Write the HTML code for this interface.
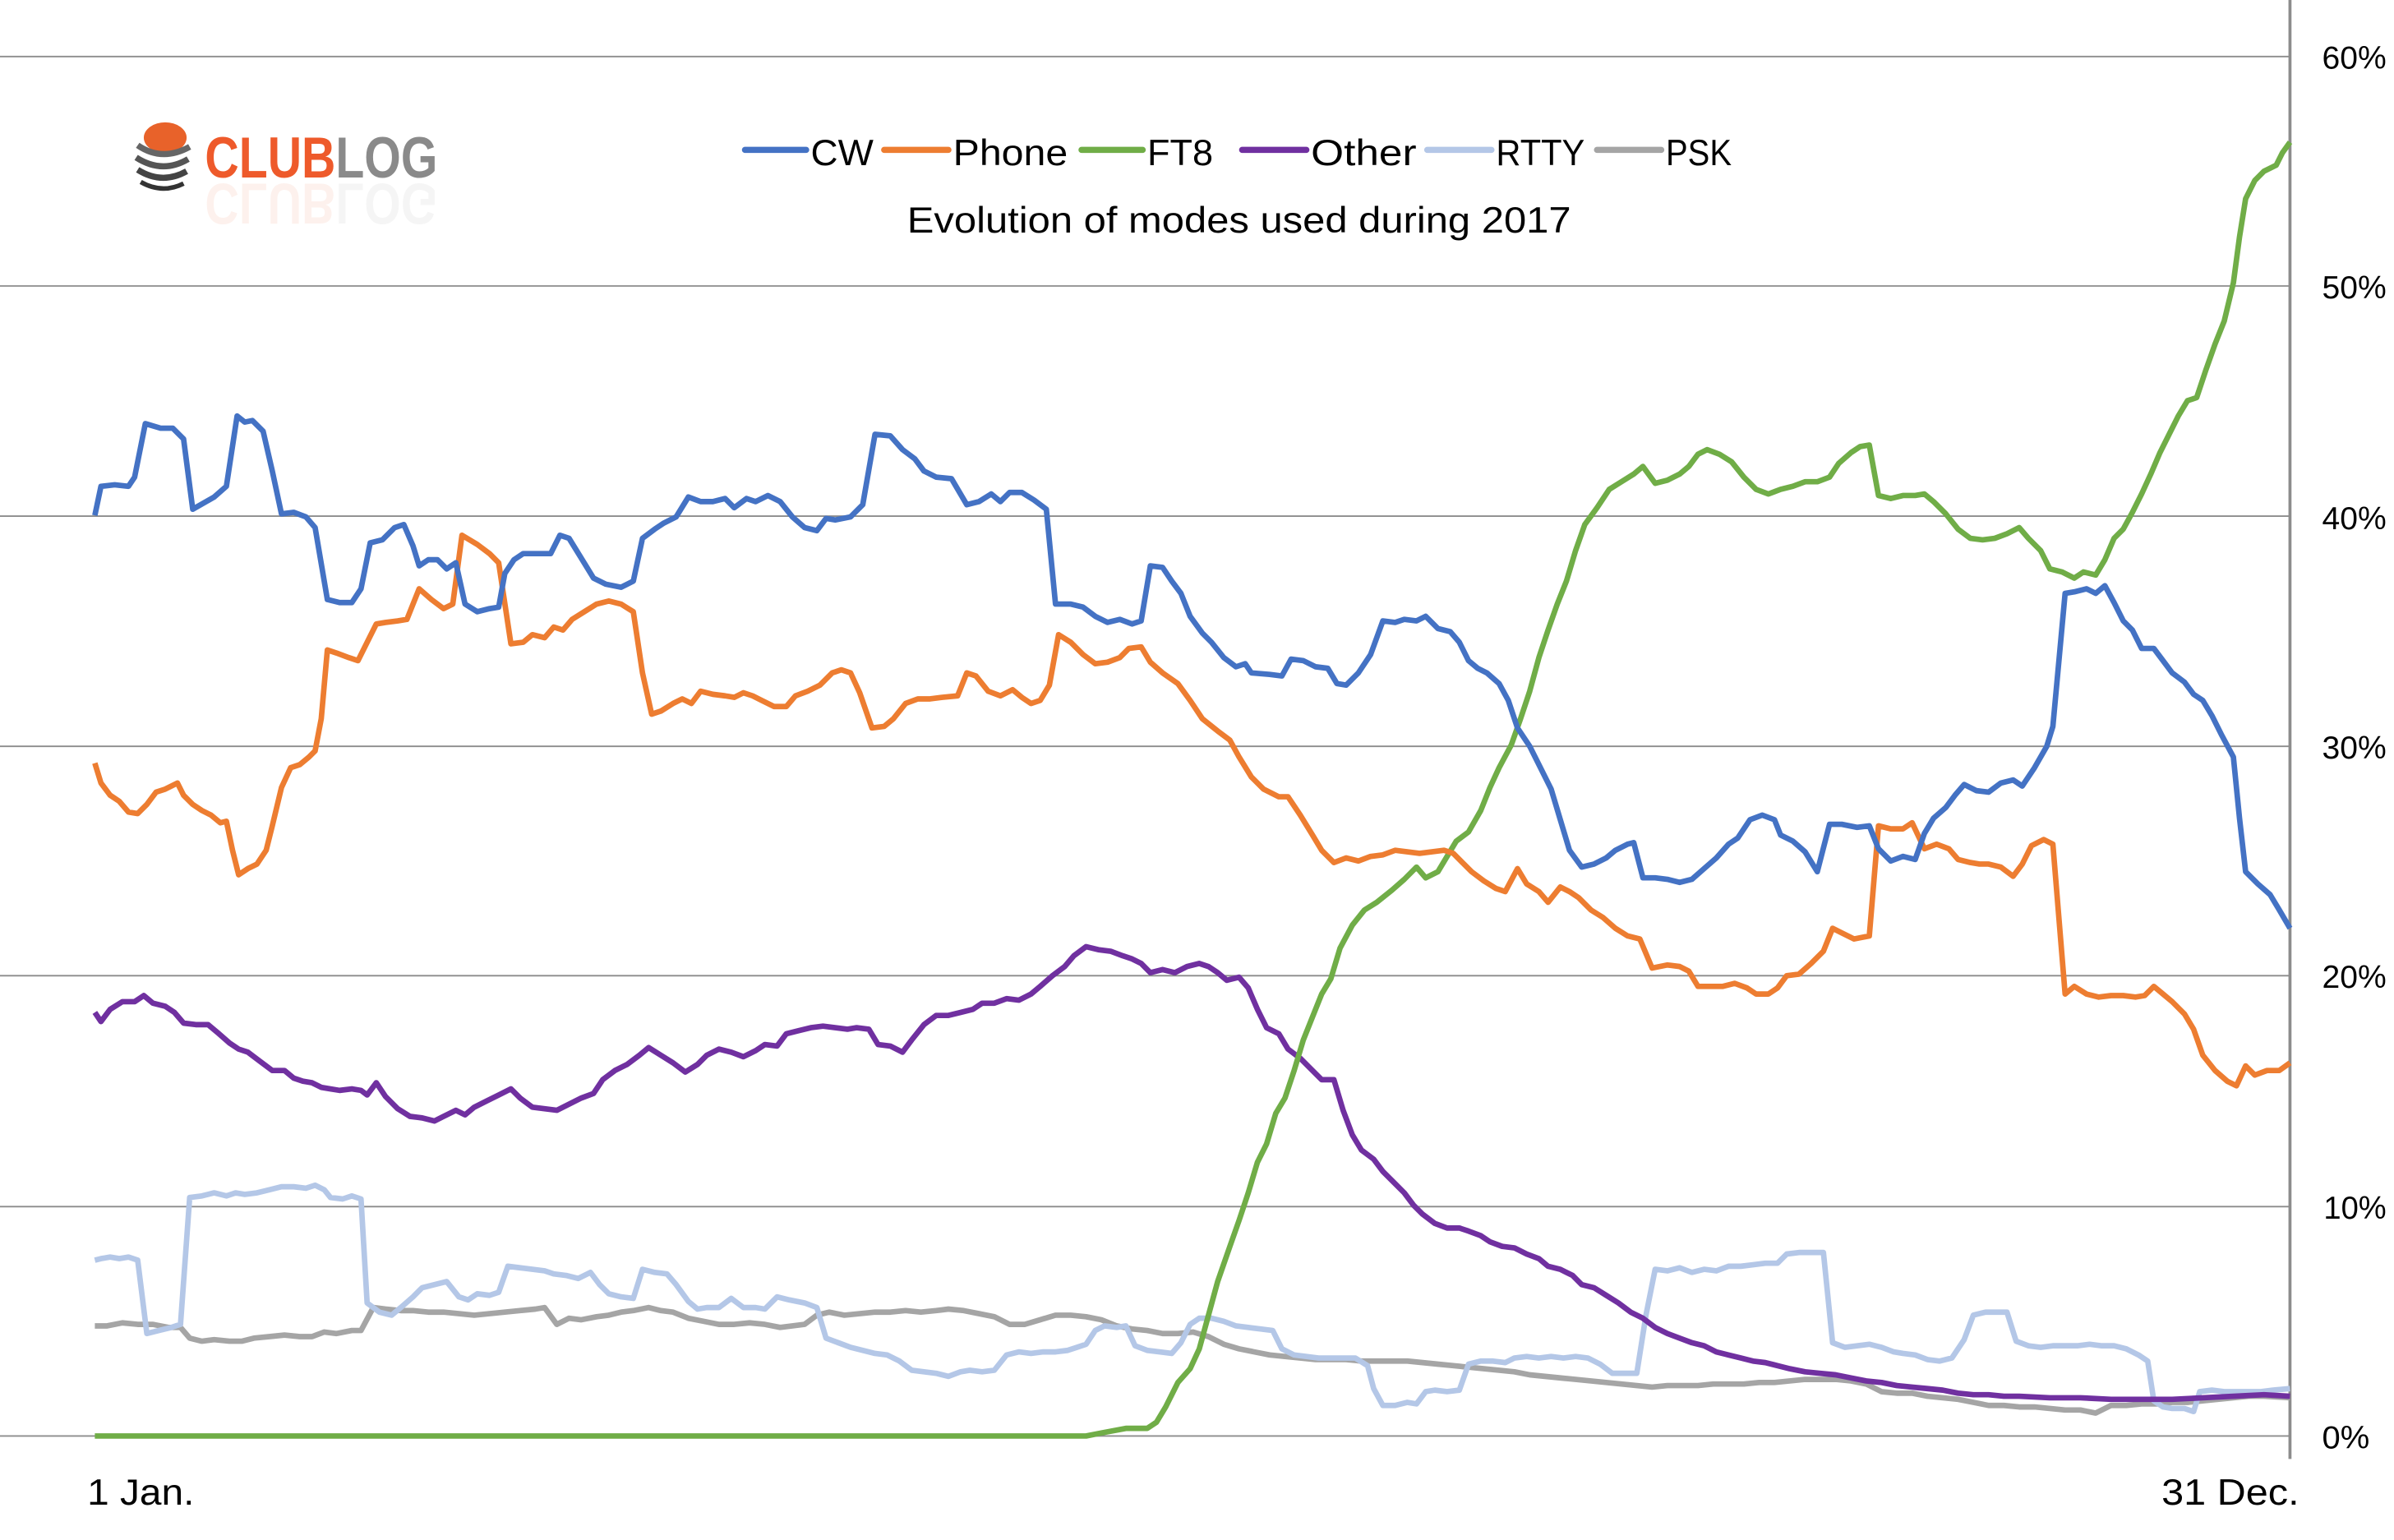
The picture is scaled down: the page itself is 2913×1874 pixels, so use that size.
<!DOCTYPE html>
<html><head><meta charset="utf-8"><style>html,body{margin:0;padding:0;background:#fff}svg{display:block}</style></head>
<body>
<svg width="2913" height="1874" viewBox="0 0 1565 1007" preserveAspectRatio="none" xmlns="http://www.w3.org/2000/svg" font-family="'Liberation Sans', sans-serif">
<rect width="1565" height="1007" fill="#fff"/>
<g stroke="#8c8c8c" stroke-width="1">
<line x1="0" y1="37" x2="1497" y2="37"/>
<line x1="0" y1="187" x2="1497" y2="187"/>
<line x1="0" y1="337.5" x2="1497" y2="337.5"/>
<line x1="0" y1="488" x2="1497" y2="488"/>
<line x1="0" y1="638" x2="1497" y2="638"/>
<line x1="0" y1="789" x2="1497" y2="789"/>
<line x1="0" y1="939" x2="1497" y2="939"/>
</g>
<line x1="1497" y1="0" x2="1497" y2="954" stroke="#8c8c8c" stroke-width="2"/>
<g font-size="21" fill="#000">
<text x="1518" y="45" textLength="42" lengthAdjust="spacingAndGlyphs">60%</text>
<text x="1518" y="195" textLength="42" lengthAdjust="spacingAndGlyphs">50%</text>
<text x="1518" y="346" textLength="42" lengthAdjust="spacingAndGlyphs">40%</text>
<text x="1518" y="496" textLength="42" lengthAdjust="spacingAndGlyphs">30%</text>
<text x="1518" y="646" textLength="42" lengthAdjust="spacingAndGlyphs">20%</text>
<text x="1519" y="797" textLength="41" lengthAdjust="spacingAndGlyphs">10%</text>
<text x="1518" y="947" textLength="31" lengthAdjust="spacingAndGlyphs">0%</text>
</g>
<text x="57" y="984" font-size="24" textLength="70" lengthAdjust="spacingAndGlyphs">1 Jan.</text>
<text x="1413" y="984" font-size="24" textLength="90" lengthAdjust="spacingAndGlyphs">31 Dec.</text>
<!-- logo -->
<g>
<ellipse cx="108" cy="90" rx="14" ry="10" fill="#e8622a"/>
<path d="M90 95 Q106 106 124 96" stroke="#666" stroke-width="4" fill="none"/>
<path d="M89 103 Q106 114 123 104" stroke="#555" stroke-width="4" fill="none"/>
<path d="M90 111 Q106 121 122 112" stroke="#444" stroke-width="4" fill="none"/>
<path d="M92 119 Q106 127 120 120" stroke="#333" stroke-width="3" fill="none"/>
<text x="134" y="116" font-size="38" font-weight="bold" textLength="152" lengthAdjust="spacingAndGlyphs"><tspan fill="#ee5a2b">CLUB</tspan><tspan fill="#8a8a8a">LOG</tspan></text>
<text x="134" y="120" font-size="38" font-weight="bold" textLength="152" lengthAdjust="spacingAndGlyphs" transform="translate(0,240) scale(1,-1)" opacity="0.08"><tspan fill="#ee5a2b">CLUB</tspan><tspan fill="#8a8a8a">LOG</tspan></text>
</g>
<!-- legend -->
<g stroke-width="4" stroke-linecap="round">
<line x1="487" y1="98" x2="527" y2="98" stroke="#4472c4"/>
<line x1="578" y1="98" x2="620" y2="98" stroke="#ed7d31"/>
<line x1="707" y1="98" x2="747" y2="98" stroke="#70ad47"/>
<line x1="812" y1="98" x2="854" y2="98" stroke="#7030a0"/>
<line x1="933" y1="98" x2="975" y2="98" stroke="#b4c7e7"/>
<line x1="1044" y1="98" x2="1086" y2="98" stroke="#a5a5a5"/>
</g>
<g font-size="24" fill="#000">
<text x="530" y="108" textLength="41" lengthAdjust="spacingAndGlyphs">CW</text>
<text x="623" y="108" textLength="75" lengthAdjust="spacingAndGlyphs">Phone</text>
<text x="750" y="108" textLength="43" lengthAdjust="spacingAndGlyphs">FT8</text>
<text x="857" y="108" textLength="69" lengthAdjust="spacingAndGlyphs">Other</text>
<text x="978" y="108" textLength="58" lengthAdjust="spacingAndGlyphs">RTTY</text>
<text x="1089" y="108" textLength="43" lengthAdjust="spacingAndGlyphs">PSK</text>
<text x="593" y="152" textLength="434" lengthAdjust="spacingAndGlyphs">Evolution of modes used during 2017</text>
</g>
<g fill="none" stroke-width="3.6" stroke-linejoin="round">
<polyline stroke="#a5a5a5" points="62,867 70,867 80,865 90,866 100,866 110,868 118,868 124,875 132,877 140,876 150,877 158,877 166,875 176,874 186,873 196,874 204,874 212,871 220,872 230,870 236,870 244,855 252,856 262,857 270,857 280,858 290,858 300,859 310,860 320,859 330,858 340,857 350,856 356,855 364,866 372,862 380,863 390,861 398,860 406,858 414,857 424,855 432,857 440,858 450,862 460,864 470,866 480,866 490,865 500,866 510,868 518,867 526,866 534,860 542,858 552,860 562,859 572,858 582,858 592,857 602,858 612,857 620,856 630,857 640,859 650,861 660,866 670,866 680,863 690,860 700,860 710,861 720,863 730,867 740,869 750,870 760,872 770,872 780,871 790,874 800,879 810,882 820,884 830,886 840,887 850,888 860,889 870,889 880,889 890,890 900,890 910,890 920,890 930,891 940,892 950,893 960,894 970,895 980,896 990,897 1000,899 1010,900 1020,901 1030,902 1040,903 1050,904 1060,905 1070,906 1080,907 1090,906 1100,906 1110,906 1120,905 1130,905 1140,905 1150,904 1160,904 1170,903 1180,902 1190,902 1200,902 1210,903 1220,905 1230,910 1240,911 1250,911 1260,913 1270,914 1280,915 1290,917 1300,919 1310,919 1320,920 1330,920 1340,921 1350,922 1360,922 1370,924 1380,919 1390,919 1400,918 1410,918 1420,917 1430,917 1440,916 1450,915 1460,914 1470,913 1480,913 1497,914"/>
<polyline stroke="#b4c7e7" points="62,824 66,823 72,822 78,823 84,822 90,824 96,872 104,870 112,868 118,866 124,783 132,782 140,780 148,782 154,780 160,781 168,780 176,778 184,776 192,776 200,777 206,775 212,778 216,783 224,784 230,782 236,784 240,852 248,858 256,860 262,855 270,848 276,842 284,840 292,838 300,848 306,850 312,846 320,847 326,845 332,828 340,829 348,830 356,831 362,833 370,834 378,836 386,832 392,840 398,846 406,848 414,849 420,830 428,832 436,833 442,840 450,851 456,856 462,855 470,855 478,849 486,855 494,855 500,856 508,848 516,850 526,852 534,855 540,875 548,878 556,881 564,883 572,885 580,886 588,890 596,896 604,897 612,898 620,900 628,897 634,896 642,897 650,896 658,886 666,884 674,885 682,884 690,884 698,883 704,881 710,879 716,870 722,867 730,868 736,867 742,880 750,883 758,884 766,885 772,878 778,866 784,862 792,862 800,864 808,867 816,868 824,869 832,870 838,882 846,886 854,887 862,888 870,888 878,888 886,888 894,893 898,908 904,919 912,919 920,917 926,918 932,910 938,909 946,910 954,909 960,892 968,890 976,890 984,891 990,888 998,887 1006,888 1014,887 1022,888 1030,887 1038,888 1046,892 1054,898 1062,898 1070,898 1076,860 1082,830 1090,831 1098,829 1106,832 1114,830 1122,831 1130,828 1138,828 1146,827 1154,826 1162,826 1168,820 1176,819 1184,819 1192,819 1198,878 1206,881 1214,880 1222,879 1230,881 1238,884 1244,885 1252,886 1260,889 1268,890 1276,888 1284,876 1290,860 1298,858 1306,858 1312,858 1318,877 1326,880 1334,881 1342,880 1350,880 1358,880 1366,879 1374,880 1382,880 1390,882 1398,886 1404,890 1408,916 1414,920 1420,921 1428,921 1434,923 1438,910 1446,909 1454,910 1462,910 1470,910 1478,910 1486,909 1497,908"/>
<polyline stroke="#7030a0" points="62,662 66,668 72,660 80,655 88,655 94,651 100,656 108,658 114,662 120,669 128,670 136,670 142,675 150,682 156,686 162,688 170,694 178,700 186,700 192,705 198,707 204,708 210,711 216,712 222,713 230,712 236,713 240,716 246,708 252,717 260,725 268,730 276,731 284,733 290,730 298,726 304,729 310,724 318,720 326,716 334,712 340,718 348,724 356,725 364,726 372,722 380,718 388,715 394,706 402,700 410,696 418,690 424,685 432,690 440,695 448,701 456,696 462,690 470,686 478,688 486,691 494,687 500,683 508,684 514,676 522,674 530,672 538,671 546,672 554,673 560,672 568,673 574,683 582,684 590,688 596,680 604,670 612,664 620,664 628,662 636,660 642,656 650,656 658,653 666,654 674,650 680,645 688,638 696,632 702,625 710,619 718,621 726,622 734,625 740,627 746,630 752,636 760,634 768,636 776,632 784,630 790,632 796,636 802,641 810,639 816,646 822,660 828,672 836,676 842,686 850,692 856,698 864,706 872,706 878,726 884,742 890,752 898,758 904,766 912,774 918,780 924,788 930,794 938,800 946,803 954,803 960,805 968,808 974,812 982,815 990,816 998,820 1006,823 1012,828 1020,830 1028,834 1034,840 1042,842 1050,847 1058,852 1066,858 1074,862 1082,868 1090,872 1098,875 1106,878 1114,880 1122,884 1130,886 1138,888 1146,890 1154,891 1162,893 1170,895 1180,897 1190,898 1200,899 1210,901 1220,903 1230,904 1240,906 1250,907 1260,908 1270,909 1280,911 1290,912 1300,912 1310,913 1320,913 1340,914 1360,914 1380,915 1400,915 1420,915 1440,914 1460,913 1480,912 1497,913"/>
<polyline stroke="#70ad47" points="62,939 710,939 720,937 736,934 750,934 756,930 762,920 770,904 778,895 784,882 790,860 796,838 804,815 810,798 816,780 822,760 828,748 834,728 840,718 846,700 852,680 858,665 864,650 870,640 876,620 884,605 892,595 900,590 910,582 918,575 926,567 932,574 940,570 946,560 952,550 960,544 968,530 974,515 980,502 988,487 994,470 1000,452 1006,430 1012,412 1018,395 1024,380 1030,360 1036,343 1044,332 1052,320 1060,315 1068,310 1074,305 1082,316 1090,314 1098,310 1104,305 1110,297 1116,294 1124,297 1132,302 1140,312 1148,320 1156,323 1164,320 1172,318 1180,315 1188,315 1196,312 1202,303 1210,296 1216,292 1222,291 1228,324 1236,326 1244,324 1252,324 1258,323 1264,328 1272,336 1280,346 1288,352 1296,353 1304,352 1312,349 1320,345 1326,352 1334,360 1340,372 1348,374 1356,378 1362,374 1370,376 1376,366 1382,352 1388,346 1394,335 1400,323 1406,310 1412,296 1418,284 1424,272 1430,262 1436,260 1442,242 1448,225 1454,210 1460,185 1464,155 1468,130 1474,118 1480,112 1488,108 1492,100 1497,93"/>
<polyline stroke="#ed7d31" points="62,499 66,512 72,520 78,524 84,531 90,532 96,526 102,518 108,516 116,512 120,520 126,526 132,530 138,533 144,538 148,537 152,556 156,572 162,568 168,565 174,556 178,540 184,515 190,502 196,500 202,495 206,491 210,470 214,425 220,427 228,430 234,432 240,420 246,408 252,407 260,406 266,405 274,385 282,392 290,398 296,395 302,350 312,356 320,362 326,368 334,421 342,420 348,415 356,417 362,410 368,412 374,405 382,400 390,395 398,393 406,395 414,400 420,440 426,467 432,465 440,460 446,457 452,460 458,452 466,454 474,455 480,456 486,453 492,455 498,458 506,462 514,462 520,455 528,452 536,448 544,440 550,438 556,440 562,453 570,476 578,475 584,470 592,460 600,457 608,457 616,456 626,455 632,440 638,442 646,452 654,455 662,451 668,456 674,460 680,458 686,448 692,415 700,420 708,428 716,434 724,433 732,430 738,424 746,423 752,433 760,440 770,447 778,458 786,470 796,478 804,484 810,495 818,508 826,516 836,521 842,521 850,533 858,546 864,556 872,564 880,561 888,563 896,560 904,559 912,556 920,557 928,558 936,557 944,556 950,558 956,564 962,570 970,576 978,581 984,583 992,568 998,578 1006,583 1012,590 1020,580 1026,583 1032,587 1040,595 1048,600 1056,607 1064,612 1072,614 1080,633 1090,631 1098,632 1104,635 1110,645 1118,645 1126,645 1134,643 1142,646 1148,650 1156,650 1162,646 1168,638 1176,637 1184,630 1192,622 1198,607 1204,610 1212,614 1222,612 1228,540 1236,542 1244,542 1250,538 1258,555 1266,552 1274,555 1280,562 1288,564 1294,565 1300,565 1308,567 1316,573 1322,565 1328,553 1336,549 1342,552 1350,650 1356,645 1364,650 1372,652 1380,651 1388,651 1396,652 1402,651 1408,645 1414,650 1420,655 1428,663 1434,673 1440,690 1448,700 1456,707 1462,710 1468,697 1474,703 1482,700 1490,700 1497,695"/>
<polyline stroke="#4472c4" points="62,337 66,318 75,317 84,318 88,312 95,277 105,280 113,280 120,287 126,333 140,325 148,318 155,272 160,276 165,275 172,282 178,308 184,336 192,335 200,338 206,345 214,392 222,394 230,394 236,385 242,355 250,353 258,345 264,343 270,357 274,370 280,366 286,366 292,372 298,368 304,395 312,400 320,398 326,397 330,375 336,366 342,362 350,362 360,362 366,350 372,352 380,365 388,378 396,382 406,384 414,380 420,352 428,346 434,342 442,338 450,325 458,328 466,328 474,326 480,332 488,326 494,328 502,324 510,328 518,338 526,345 534,347 540,339 546,340 556,338 564,330 572,284 582,285 590,294 598,300 604,308 612,312 622,313 632,330 640,328 648,323 654,328 660,322 668,322 676,327 684,333 690,395 700,395 708,397 716,403 724,407 732,405 740,408 746,406 752,370 760,371 766,380 772,388 778,403 786,414 792,420 800,430 808,436 814,434 818,440 830,441 838,442 844,431 852,432 860,436 868,437 874,447 880,448 888,440 896,428 904,406 912,407 918,405 926,406 932,403 940,411 948,413 954,420 960,432 966,437 972,440 980,447 986,458 992,476 1000,488 1008,504 1014,516 1020,536 1026,556 1034,567 1042,565 1050,561 1056,556 1064,552 1068,551 1074,574 1082,574 1090,575 1098,577 1106,575 1114,568 1122,561 1130,552 1136,548 1144,536 1152,533 1160,536 1164,546 1172,550 1180,557 1188,570 1196,539 1204,539 1214,541 1222,540 1228,555 1236,563 1244,560 1252,562 1258,545 1264,535 1272,528 1278,520 1284,513 1292,517 1300,518 1308,512 1316,510 1322,514 1330,502 1338,488 1342,475 1350,388 1356,387 1364,385 1370,388 1376,383 1382,394 1388,406 1394,412 1400,424 1408,424 1414,432 1420,440 1428,446 1434,454 1440,458 1446,468 1452,480 1460,495 1464,535 1468,570 1476,578 1484,585 1490,595 1497,607"/>
</g>
</svg>
</body></html>
